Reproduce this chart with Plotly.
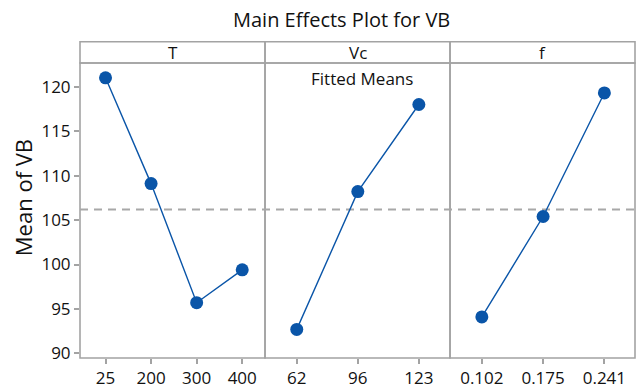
import plotly.graph_objects as go

# Factor levels (category labels) and fitted means of VB for each factor
t_levels = ["25", "200", "300", "400"]
t_means = [121.0, 109.1, 95.7, 99.4]

vc_levels = ["62", "96", "123"]
vc_means = [92.7, 108.2, 118.0]

f_levels = ["0.102", "0.175", "0.241"]
f_means = [94.1, 105.4, 119.3]

factor_names = ["T", "Vc", "f"]
grand_mean = 106.2

W, H = 636, 390
ML, MR, MT, MB = 80, 1, 63, 28
PH = H - MT - MB

BLUE = "#0a55a8"
FRAME = "#a3a3a3"
TEXT = "#111111"
FONT = "Open Sans"

panels = [(t_levels, t_means, [-0.56, 3.5]),
          (vc_levels, vc_means, [-0.52, 2.51]),
          (f_levels, f_means, [-0.52, 2.5])]

fig = go.Figure()
third = 1.0 / 3.0
for i, (levels, means, rng) in enumerate(panels):
    sfx = "" if i == 0 else str(i + 1)
    fig.add_trace(go.Scatter(
        x=levels, y=means, mode="lines+markers",
        xaxis="x" + sfx, yaxis="y" + sfx,
        line=dict(color=BLUE, width=1.4),
        marker=dict(color=BLUE, size=13, symbol="circle"),
        showlegend=False, hoverinfo="skip"))
    fig.update_layout(**{
        "xaxis" + sfx: dict(
            type="category", categoryorder="array", categoryarray=levels,
            domain=[i * third, (i + 1) * third], range=rng,
            anchor="y" + sfx, showgrid=False, zeroline=False,
            showline=False, ticks="outside", ticklen=5, tickwidth=1.5,
            tickcolor=FRAME, tickfont=dict(family=FONT, size=17, color=TEXT)),
        "yaxis" + sfx: dict(
            domain=[0, 1], range=[89.48, 122.67], anchor="x" + sfx,
            showgrid=False, zeroline=False, showline=False,
            tickvals=[90, 95, 100, 105, 110, 115, 120],
            ticks="outside" if i == 0 else "", ticklen=5, tickwidth=1.5,
            tickcolor=FRAME, showticklabels=(i == 0),
            tickfont=dict(family=FONT, size=17, color=TEXT)),
    })

shapes = []
hdr = 21.6 / PH
for i in range(3):
    x0, x1 = i * third, (i + 1) * third
    # panel frame
    shapes.append(dict(type="rect", xref="paper", yref="paper",
                       x0=x0, x1=x1, y0=0, y1=1,
                       line=dict(color=FRAME, width=1.6), layer="below"))
    # strip header
    shapes.append(dict(type="rect", xref="paper", yref="paper",
                       x0=x0, x1=x1, y0=1, y1=1 + hdr,
                       line=dict(color=FRAME, width=1.6)))
# overall mean reference line
shapes.append(dict(type="line", xref="paper", yref="y",
                   x0=0, x1=1, y0=grand_mean, y1=grand_mean,
                   line=dict(color="#a8a8a8", width=2, dash="8px,6px"),
                   layer="below"))

annotations = []
for i, name in enumerate(factor_names):
    annotations.append(dict(text=name, xref="paper", yref="paper",
                            x=(i + 0.5) * third, y=1 + hdr / 2,
                            xanchor="center", yanchor="middle", showarrow=False,
                            font=dict(family=FONT, size=17, color=TEXT)))
annotations.append(dict(text="Fitted Means", xref="paper", yref="paper",
                        x=(361.7 - ML) / (W - ML - MR), y=1 - (79 - MT) / PH,
                        xanchor="center", yanchor="middle", showarrow=False,
                        font=dict(family=FONT, size=17, color=TEXT)))
annotations.append(dict(text="Main Effects Plot for VB", xref="paper", yref="paper",
                        x=(341 - ML) / (W - ML - MR), y=1 + (MT - 19) / PH,
                        xanchor="center", yanchor="middle", showarrow=False,
                        font=dict(family=FONT, size=20, color=TEXT)))
annotations.append(dict(text="Mean of VB", xref="paper", yref="paper",
                        x=(23 - ML) / (W - ML - MR), y=1 - (200 - MT) / PH,
                        xanchor="center", yanchor="middle", showarrow=False,
                        textangle=-90,
                        font=dict(family=FONT, size=22, color=TEXT)))

fig.update_layout(width=W, height=H,
                  margin=dict(l=ML, r=MR, t=MT, b=MB, pad=0),
                  paper_bgcolor="white", plot_bgcolor="white",
                  shapes=shapes, annotations=annotations)

fig.write_html("out.html")
